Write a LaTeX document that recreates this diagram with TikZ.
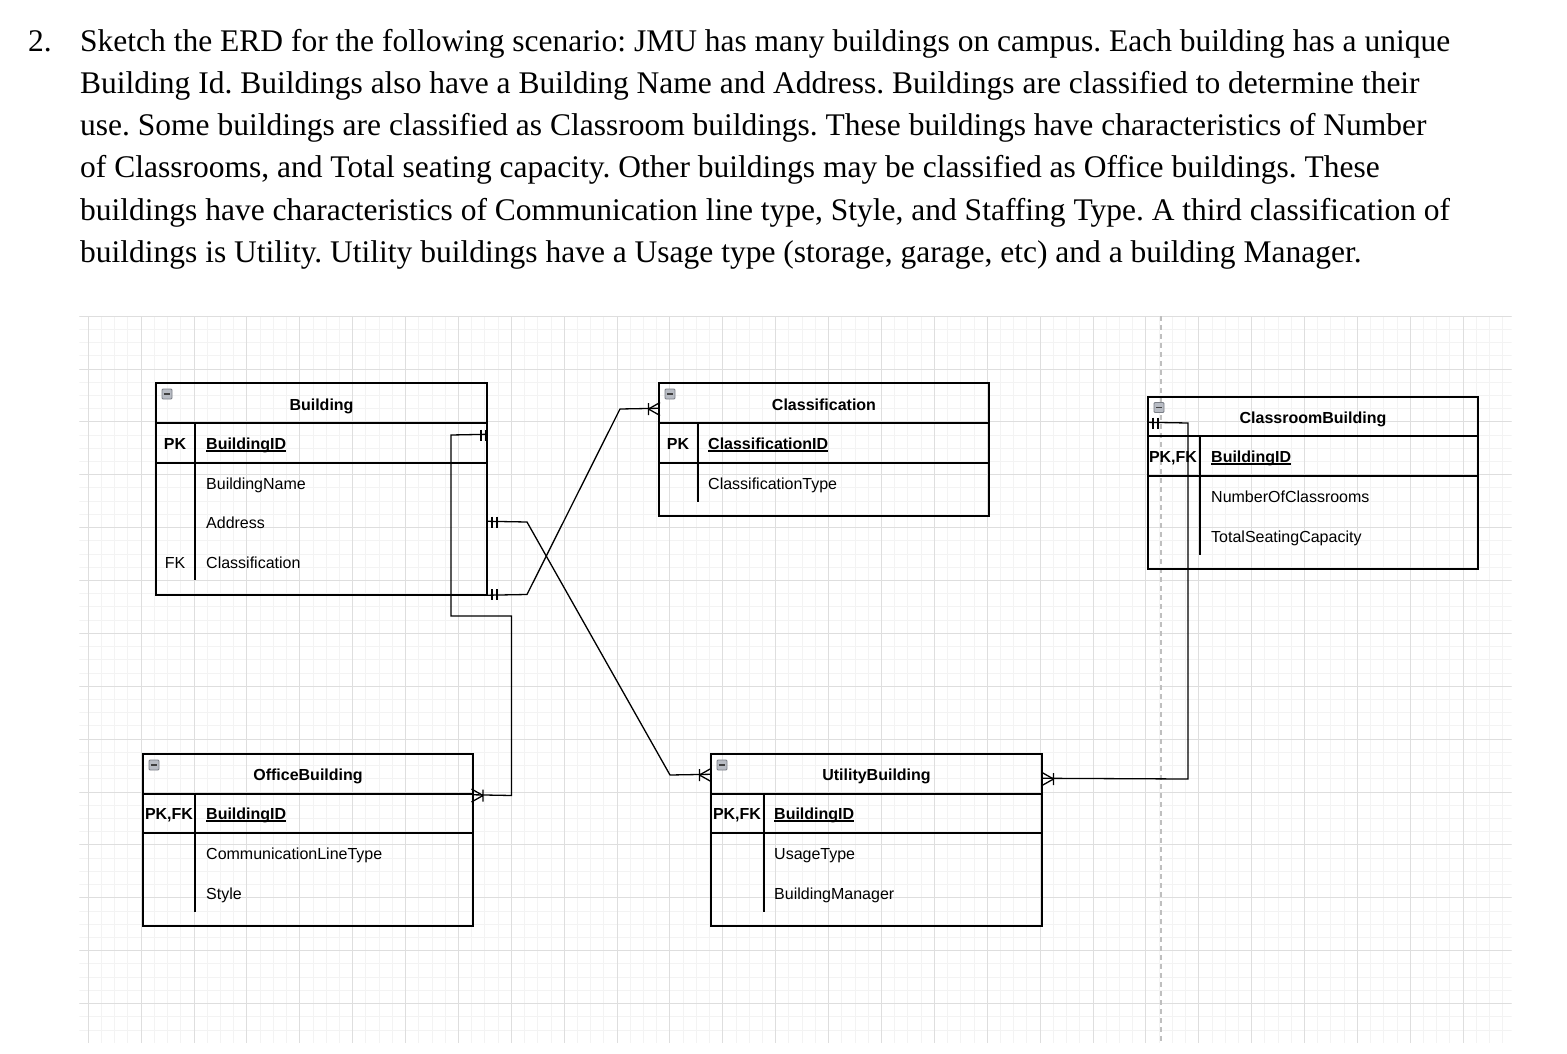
\documentclass[tikz,border=0pt]{standalone}
\usepackage{fontspec}
\setmainfont{Liberation Serif}
\newfontfamily\erdfont{Liberation Sans}
\usetikzlibrary{calc}
\frenchspacing
\definecolor{gridminor}{HTML}{F3F3F3}
\definecolor{gridmajor}{HTML}{DEDEDE}
\definecolor{iconfill}{HTML}{B8BCC4}
\definecolor{iconline}{HTML}{7A7E86}
\tikzset{
  ent/.style={draw=black, line width=1.4pt, rectangle, inner sep=0pt, fill=none},
  sep/.style={draw=black, line width=1.4pt},
  conn/.style={draw=black, line width=1.3pt},
  qtext/.style={anchor=base west, inner sep=0pt, font=\fontsize{31.5}{36}\selectfont},
  ttl/.style={anchor=base, inner sep=0pt, yshift=-6pt, font=\erdfont\fontsize{16}{19}\selectfont\bfseries},
  keytxt/.style={anchor=base, inner sep=0pt, yshift=-6pt, font=\erdfont\fontsize{16}{19}\selectfont\bfseries},
  attr/.style={anchor=base west, inner sep=0pt, yshift=-6pt, font=\erdfont\fontsize{16}{19}\selectfont},
  attrc/.style={anchor=base, inner sep=0pt, yshift=-6pt, font=\erdfont\fontsize{16}{19}\selectfont},
  pkattr/.style={anchor=base west, inner sep=0pt, yshift=-6pt, font=\erdfont\fontsize{16}{19}\selectfont\bfseries},
  mandone/.pic={\draw[conn] (0,-5.5)--(0,5.5) (5,-5.5)--(5,5.5);},
  crowfoot/.pic={\draw[conn] (0,-6)--(0,6) (0,0)--(11.5,-6.5) (0,0)--(11.5,6.5);},
  minusicon/.pic={\draw[draw=iconline, fill=iconfill, line width=0.8pt, rounded corners=1pt] (0,0) rectangle (10,10);
                  \draw[draw=black!75, line width=1.2pt] (1.8,5) -- (8.2,5);}
}
\newcommand{\ul}[1]{\setbox0\hbox{#1}\rlap{\rule[-2.6pt]{\wd0}{1.4pt}}\box0}
\begin{document}
\begin{tikzpicture}[x=1pt,y=-1pt]
\useasboundingbox (0,0) rectangle (1567,1054);
\fill[white] (0,0) rectangle (1567,1054);

% ---------- question text ----------
\node[qtext] (qnum) at (28,52) {2.};
\node[qtext] (q1) at (80,52) {Sketch the ERD for the following scenario: JMU has many buildings on campus. Each building has a unique};
\node[qtext] (q2) at (80,94) {Building Id. Buildings also have a Building Name and Address. Buildings are classified to determine their};
\node[qtext] (q3) at (80,136) {use. Some buildings are classified as Classroom buildings. These buildings have characteristics of Number};
\node[qtext] (q4) at (80,178) {of Classrooms, and Total seating capacity. Other buildings may be classified as Office buildings. These};
\node[qtext] (q5) at (80,220) {buildings have characteristics of Communication line type, Style, and Staffing Type. A third classification of};
\node[qtext] (q6) at (80,262) {buildings is Utility. Utility buildings have a Usage type (storage, garage, etc) and a building Manager.};

% ---------- grid ----------
\begin{scope}
\clip (79.3,316) rectangle (1511.7,1042.7);
\foreach \i in {0,...,108} { \draw[gridminor, line width=1pt] ({88.3+13.22*\i},316) -- ({88.3+13.22*\i},1043); }
\foreach \j in {0,...,55} { \draw[gridminor, line width=1pt] (79,{316.12+13.22*\j}) -- (1512,{316.12+13.22*\j}); }
\foreach \k in {0,...,27} { \draw[gridmajor, line width=1pt] ({88.3+52.88*\k},316) -- ({88.3+52.88*\k},1043); }
\foreach \k in {0,...,13} { \draw[gridmajor, line width=1pt] (79,{316.12+52.88*\k}) -- (1512,{316.12+52.88*\k}); }
\end{scope}
\draw[draw=black!25, line width=1.5pt, dash pattern=on 5pt off 4pt] (1161,316) -- (1161,1043);

% ---------- Building ----------
\node[ent, minimum width=331, minimum height=212] (bld) at (321.5,489) {};
\draw[sep] (156,423) -- (487,423);
\draw[sep] (156,463) -- (487,463);
\draw[sep] (195,423) -- (195,580);
\pic at (162,389) {minusicon};
\node[ttl] (bldT) at (321.5,404) {Building};
\node[keytxt] (bldPK) at (175,443) {PK};
\node[pkattr] (bldA1) at (206,443) {\ul{BuildingID}};
\node[attr] (bldA2) at (206,483) {BuildingName};
\node[attr] (bldA3) at (206,522) {Address};
\node[attrc] (bldFK) at (175,562) {FK};
\node[attr] (bldA4) at (206,562) {Classification};

% ---------- Classification ----------
\node[ent, minimum width=330, minimum height=133] (cls) at (824,449.5) {};
\draw[sep] (659,423) -- (989,423);
\draw[sep] (659,463) -- (989,463);
\draw[sep] (698,423) -- (698,502);
\pic at (665,389) {minusicon};
\node[ttl] (clsT) at (824,404) {Classification};
\node[keytxt] (clsPK) at (678,443) {PK};
\node[pkattr] (clsA1) at (708,443) {\ul{ClassificationID}};
\node[attr] (clsA2) at (708,483) {ClassificationType};

% ---------- ClassroomBuilding ----------
\node[ent, minimum width=330, minimum height=172] (crb) at (1313,483) {};
\draw[sep] (1148,436) -- (1478,436);
\draw[sep] (1148,476) -- (1478,476);
\draw[sep] (1200,436) -- (1200,555);
\pic at (1154,402.5) {minusicon};
\node[ttl] (crbT) at (1313,417) {ClassroomBuilding};
\node[keytxt] (crbPK) at (1173,456) {PK,FK};
\node[pkattr] (crbA1) at (1211,456) {\ul{BuildingID}};
\node[attr] (crbA2) at (1211,496) {NumberOfClassrooms};
\node[attr] (crbA3) at (1211,536) {TotalSeatingCapacity};

% ---------- OfficeBuilding ----------
\node[ent, minimum width=330, minimum height=172] (off) at (308,840) {};
\draw[sep] (143,794) -- (473,794);
\draw[sep] (143,833) -- (473,833);
\draw[sep] (195,794) -- (195,912);
\pic at (149,760) {minusicon};
\node[ttl] (offT) at (308,774) {OfficeBuilding};
\node[keytxt] (offPK) at (169,813) {PK,FK};
\node[pkattr] (offA1) at (206,813) {\ul{BuildingID}};
\node[attr] (offA2) at (206,853) {CommunicationLineType};
\node[attr] (offA3) at (206,893) {Style};

% ---------- UtilityBuilding ----------
\node[ent, minimum width=331, minimum height=172] (utl) at (876.5,840) {};
\draw[sep] (711,794) -- (1042,794);
\draw[sep] (711,833) -- (1042,833);
\draw[sep] (764,794) -- (764,912);
\pic at (717,760) {minusicon};
\node[ttl] (utlT) at (876.5,774) {UtilityBuilding};
\node[keytxt] (utlPK) at (737,813) {PK,FK};
\node[pkattr] (utlA1) at (774,813) {\ul{BuildingID}};
\node[attr] (utlA2) at (774,853) {UsageType};
\node[attr] (utlA3) at (774,893) {BuildingManager};

% ---------- connectors ----------
% Building -> OfficeBuilding
\draw[conn] ($(bld.north east)+(0,52)$) -- (451,435) -- (451,616) -- (511.5,616) -- (511.5,795.5) -- ($(off.north east)+(0,41.5)$);
\pic at (481,435) {mandone};
\pic[rotate=180] at (483,795.5) {crowfoot};

% Building -> Classification
\draw[conn] ($(bld.south east)+(0,-0.5)$) -- (527,594.5) -- (620,409) -- ($(cls.north west)+(0,26)$);
\pic at (492,594.5) {mandone};
\pic at (648.5,409) {crowfoot};

% Building -> UtilityBuilding
\draw[conn] ($(bld.north east)+(0,139)$) -- (527,522) -- (670,775) -- ($(utl.north west)+(0,21)$);
\pic at (492,522) {mandone};
\pic at (699.5,775) {crowfoot};

% ClassroomBuilding -> UtilityBuilding
\draw[conn] ($(crb.north west)+(0,26)$) -- (1188,423) -- (1188,779) -- ($(utl.north east)+(0,25)$);
\pic at (1153,423) {mandone};
\pic[rotate=180] at (1053.5,779) {crowfoot};
\end{tikzpicture}
\end{document}
